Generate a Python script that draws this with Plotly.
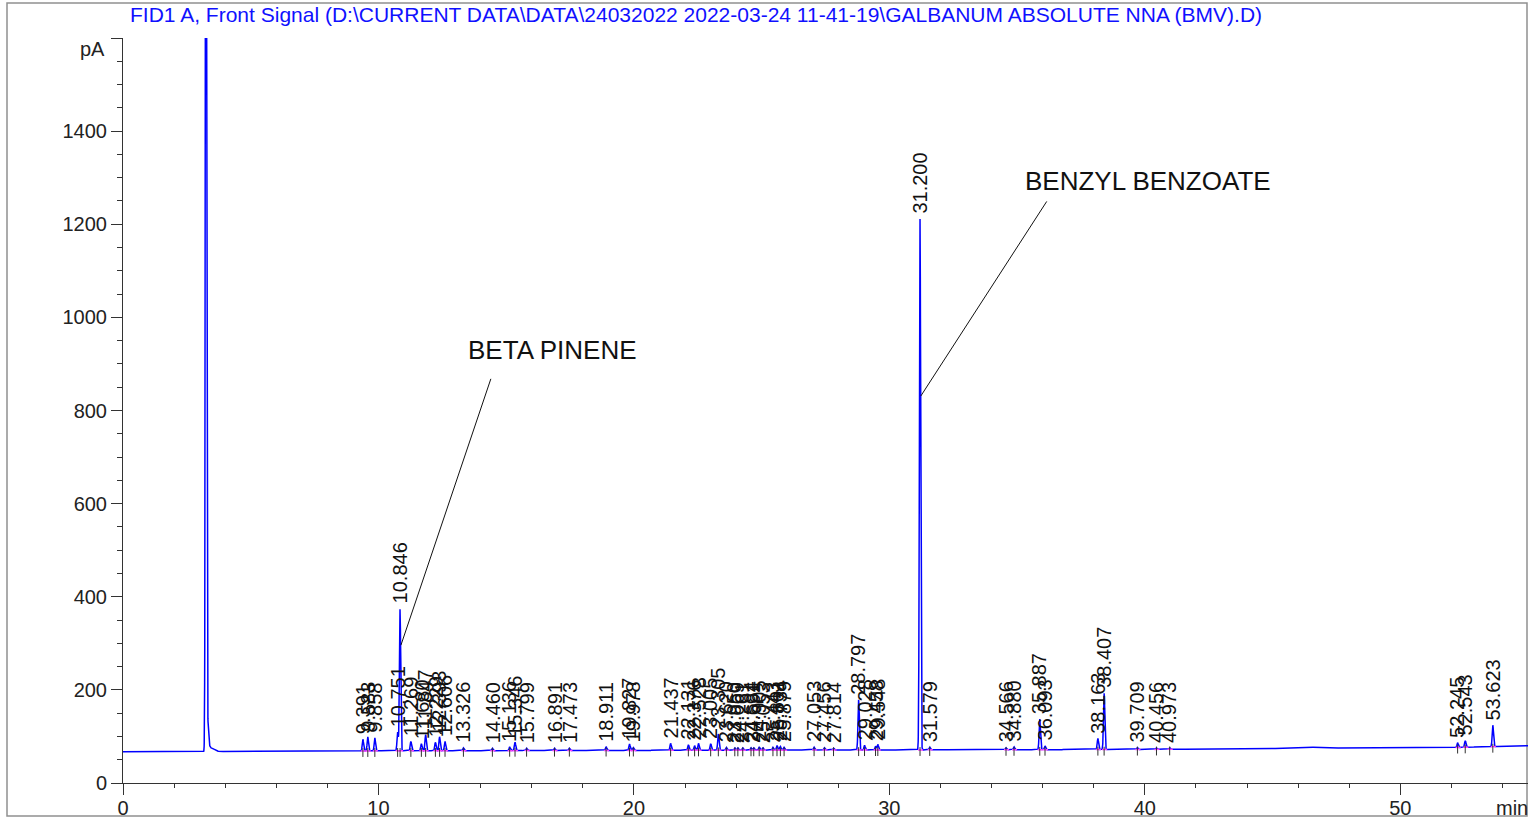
import numpy as np
import plotly.graph_objects as go

# ---------------- data ----------------
title_text = "FID1 A, Front Signal (D:\\CURRENT DATA\\DATA\\24032022 2022-03-24 11-41-19\\GALBANUM ABSOLUTE NNA (BMV).D)"

# baseline level (pA) at selected times (min)
baseline_t = [0, 3.0, 5, 10, 20, 30, 40, 45, 46.2, 47.0, 48, 52, 55]
baseline_v = [67, 67, 68.5, 69, 70, 71, 72, 74, 77, 76, 75, 76, 80]

# solvent peak (unlabelled): retention time, height above baseline, width
solvent_rt = [3.25, 3.31, 3.45]
solvent_h = [3000, 60, 8]
solvent_w = [0.022, 0.04, 0.12]

# labelled peaks: retention time (min), height above baseline (pA)
peak_rt = [9.391, 9.583, 9.858, 10.751, 10.846, 11.269, 11.680, 11.847, 12.229,
           12.393, 12.606, 13.326, 14.460, 15.136, 15.346, 15.799, 16.891, 17.473,
           18.911, 19.827, 19.978, 21.437, 22.131, 22.376, 22.528, 23.005, 23.305,
           23.620, 23.950, 24.069, 24.261, 24.584, 24.691, 24.905, 25.053, 25.443,
           25.601, 25.734, 25.879, 27.053, 27.456, 27.814, 28.797, 29.028, 29.458,
           29.548, 31.200, 31.579, 34.566, 34.880, 35.887, 36.093, 38.163, 38.407,
           39.709, 40.456, 40.973, 52.245, 52.543, 53.623]
peak_height = [25, 30, 28, 40, 305, 20, 15, 35, 18,
               30, 20, 6, 5, 8, 18, 5, 5, 5,
               8, 14, 6, 15, 12, 10, 15, 14, 35,
               6, 5, 5, 5, 5, 5, 7, 5, 6,
               10, 8, 6, 6, 5, 4, 108, 10, 8,
               12, 1140, 6, 4, 6, 66, 8, 24, 121,
               4, 3, 3, 10, 14, 46]
peak_width = [0.025] * len(peak_rt)
peak_label = ["%.3f" % r for r in peak_rt]

# compound annotations: text, text position (min, pA), pointer start, pointer end
compound_names = ["BETA PINENE", "BENZYL BENZOATE"]
compound_text_xy = [(16.83, 930), (40.12, 1292)]
compound_line_from = [(14.40, 868), (36.16, 1249)]
compound_line_to = [(10.88, 296), (31.23, 831)]

x_ticks = [0, 10, 20, 30, 40, 50]
y_ticks = [0, 200, 400, 600, 800, 1000, 1200, 1400]

# ---------------- build the trace ----------------
t = np.arange(0, 55.0001, 0.004)
def base(x):
    return np.interp(x, baseline_t, baseline_v)

sig = base(t).copy()
for r, h, w in zip(solvent_rt, solvent_h, solvent_w):
    sig += h * np.exp(-0.5 * ((t - r) / w) ** 2)
for r, h, w in zip(peak_rt, peak_height, peak_width):
    sig += h * np.exp(-0.5 * ((t - r) / w) ** 2)

FONT = "Liberation Sans, Arial, sans-serif"
fig = go.Figure()
fig.add_trace(go.Scatter(x=t, y=sig, mode="lines",
                         line=dict(color="#0000ff", width=1.5),
                         hoverinfo="skip", showlegend=False))

# pink integration baselines
px, py = [], []
for r in peak_rt:
    b0 = float(base(r - 0.08)); b1 = float(base(r + 0.12))
    px += [r - 0.08, r + 0.12, None]
    py += [b0, b1, None]
fig.add_trace(go.Scatter(x=px, y=py, mode="lines",
                         line=dict(color="#ff44ff", width=1.5),
                         hoverinfo="skip", showlegend=False))

# black retention-time marks
tx, ty = [], []
for r in peak_rt:
    b = float(base(r))
    tx += [r, r, None]
    ty += [b + 6, b - 13, None]
fig.add_trace(go.Scatter(x=tx, y=ty, mode="lines",
                         line=dict(color="#303030", width=1),
                         hoverinfo="skip", showlegend=False))

annotations = []
for r, h, lab in zip(peak_rt, peak_height, peak_label):
    annotations.append(dict(x=r, y=float(base(r)) + h, text=lab, textangle=-90,
                            xanchor="center", yanchor="bottom", yshift=4,
                            showarrow=False, borderpad=0,
                            font=dict(family=FONT, size=20, color="#111111")))
for name, (ax_, ay_) in zip(compound_names, compound_text_xy):
    annotations.append(dict(x=ax_, y=ay_, text=name, showarrow=False,
                            xanchor="center", yanchor="middle",
                            font=dict(family=FONT, size=26, color="#111111")))
annotations.append(dict(x=0, y=1600, xref="x", yref="y", text="pA", showarrow=False,
                        xanchor="right", yanchor="middle", xshift=-16, yshift=-11,
                        font=dict(family=FONT, size=20, color="#222222")))
annotations.append(dict(x=1, y=0, xref="paper", yref="paper", text="min", showarrow=False,
                        xanchor="right", yanchor="top", xshift=2, yshift=-12,
                        font=dict(family=FONT, size=20, color="#222222")))

shapes = []
for (x0, y0), (x1, y1) in zip(compound_line_from, compound_line_to):
    shapes.append(dict(type="line", x0=x0, y0=y0, x1=x1, y1=y1, xref="x", yref="y",
                       line=dict(color="#111111", width=1)))
# outer frame
L, T, W, H = 123, 38, 1405, 745
def px2x(p):
    return (p - L) / W
def py2y(p):
    return (T + H - p) / H
shapes.append(dict(type="rect", xref="paper", yref="paper",
                   x0=px2x(7), x1=px2x(1527), y0=py2y(816), y1=py2y(3),
                   line=dict(color="#909090", width=1.5), layer="below"))

fig.update_layout(
    width=1528, height=818,
    margin=dict(l=123, r=0, t=38, b=35, autoexpand=False),
    paper_bgcolor="white", plot_bgcolor="white",
    title=dict(text=title_text, x=130 / 1528, xanchor="left", y=1 - 15 / 818, yanchor="middle",
               font=dict(family=FONT, size=21, color="#1010ff")),
    annotations=annotations, shapes=shapes,
    showlegend=False,
)
fig.update_xaxes(range=[0, 55], tickvals=x_ticks, ticktext=[str(v) for v in x_ticks],
                 automargin=False, ticklabelstandoff=-4,
                 showgrid=False, zeroline=False, showline=True, linecolor="#333333", linewidth=1,
                 ticks="outside", ticklen=11, tickcolor="#333333", tickwidth=1,
                 minor=dict(dtick=2, tick0=0, ticks="outside", ticklen=4, tickcolor="#333333", showgrid=False),
                 tickfont=dict(family=FONT, size=20, color="#222222"))
fig.update_yaxes(range=[0, 1600], tickvals=y_ticks + [1600], ticktext=[str(v) for v in y_ticks] + [""],
                 automargin=False,
                 showgrid=False, zeroline=False, showline=True, linecolor="#333333", linewidth=1,
                 ticks="outside", ticklen=11, tickcolor="#333333", tickwidth=1,
                 minor=dict(dtick=50, tick0=0, ticks="outside", ticklen=5, tickcolor="#333333", showgrid=False),
                 tickfont=dict(family=FONT, size=20, color="#222222"))

fig.write_html("out.html", config={"displayModeBar": False},
               post_script="document.body.style.margin='0';document.body.style.overflow='hidden';")
